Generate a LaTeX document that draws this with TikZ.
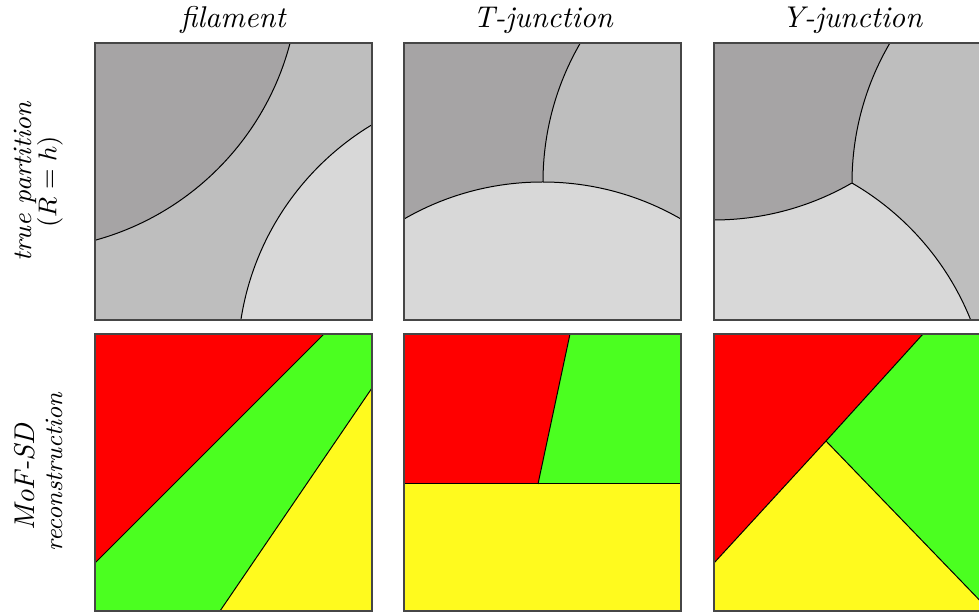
\documentclass[tikz,border=0pt]{standalone}
\definecolor{gdark}{RGB}{166,164,165}
\definecolor{gmid}{RGB}{190,190,190}
\definecolor{glight}{RGB}{216,216,216}
\definecolor{pred}{RGB}{255,0,0}
\definecolor{pgreen}{RGB}{75,255,32}
\definecolor{pyellow}{RGB}{255,250,30}
\definecolor{frame}{RGB}{70,70,70}
\tikzset{
  edge/.style={black,line width=0.35pt},
  panelframe/.style={draw=frame,line width=0.55pt},
  lbl/.style={font=\itshape\fontsize{10.5}{12}\selectfont,inner sep=0pt},
  rowlbl/.style={font=\itshape\fontsize{9.3}{11}\selectfont,inner sep=0pt,rotate=90}
}
\def\R{96.95pt}
\begin{document}
\begin{tikzpicture}[x=0.35pt,y=-0.35pt]
\useasboundingbox (0,0) rectangle (979,612);
\begin{scope}
\clip (0,0) rectangle (979,612);
% ---------- filament, true partition
\begin{scope}
\clip (95,43) rectangle (372,320);
\fill[gmid] (95,43) rectangle (372,320);
\fill[gdark] (22,-27) circle[radius=\R];
\fill[glight] (514.7,362.2) circle[radius=\R];
\draw[edge] (22,-27) circle[radius=\R];
\draw[edge] (514.7,362.2) circle[radius=\R];
\end{scope}
\draw[panelframe] (95,43) rectangle (372,320);
% ---------- T-junction, true partition
\begin{scope}
\clip (404,43) rectangle (681,320);
\fill[gdark] (404,43) rectangle (681,320);
\fill[gmid] (820,182) circle[radius=\R];
\draw[edge] (820,182) circle[radius=\R];
\fill[glight] (542.5,459) circle[radius=\R];
\draw[edge] (542.5,459) circle[radius=\R];
\end{scope}
\draw[panelframe] (404,43) rectangle (681,320);
% ---------- Y-junction, true partition
\begin{scope}
\clip (714,43) rectangle (990,320);
\fill[gmid] (714,43) rectangle (990,320);
\fill[glight] (713.5,423) circle[radius=\R];
\begin{scope}
\clip (713.5,-57) circle[radius=\R];
\fill[gdark,even odd rule] (700,30) rectangle (1000,330) (1129,183) circle[radius=\R];
\end{scope}
\begin{scope}
\clip (713.5,423) circle[radius=\R];
\draw[edge] (713.5,-57) circle[radius=\R];
\end{scope}
\begin{scope}
\clip (1129,183) circle[radius=\R];
\draw[edge] (713.5,423) circle[radius=\R];
\end{scope}
\begin{scope}
\clip (713.5,-57) circle[radius=\R];
\draw[edge] (1129,183) circle[radius=\R];
\end{scope}
\end{scope}
\draw[panelframe] (714,43) rectangle (990,320);
% ---------- filament, reconstruction
\fill[pred] (95,334) -- (324,334) -- (95,563) -- cycle;
\fill[pgreen] (324,334) -- (372,334) -- (372,388) -- (220,611) -- (95,611) -- (95,563) -- cycle;
\fill[pyellow] (372,388) -- (372,611) -- (220,611) -- cycle;
\draw[edge] (324,334) -- (95,563);
\draw[edge] (372,388) -- (220,611);
\draw[panelframe] (95,334) rectangle (372,611);
% ---------- T-junction, reconstruction
\fill[pred] (404,334) -- (570,334) -- (538,484) -- (404,484) -- cycle;
\fill[pgreen] (570,334) -- (681,334) -- (681,484) -- (538,484) -- cycle;
\fill[pyellow] (404,484) -- (681,484) -- (681,611) -- (404,611) -- cycle;
\draw[edge] (570,334) -- (538,484);
\draw[edge] (404,484) -- (681,484);
\draw[panelframe] (404,334) rectangle (681,611);
% ---------- Y-junction, reconstruction
\fill[pred] (714,334) -- (923,334) -- (826,441) -- (714,563) -- cycle;
\fill[pgreen] (923,334) -- (990,334) -- (990,611) -- (826,441) -- cycle;
\fill[pyellow] (714,563) -- (826,441) -- (990,611) -- (714,611) -- cycle;
\draw[edge] (923,334) -- (826,441) -- (714,563);
\draw[edge] (826,441) -- (990,611);
\draw[panelframe] (714,334) rectangle (990,611);
\end{scope}
% ---------- labels
\node[lbl] (hfil) at (233,20) {filament};
\node[lbl] (htj) at (543,20) {T-junction};
\node[lbl] (hyj) at (852,20) {Y-junction};
\node[rowlbl] (rowa1) at (25,182) {true partition};
\node[rowlbl] (rowa2) at (50,182) {$(R=h)$};
\node[rowlbl,font=\itshape\fontsize{10}{12}\selectfont] (rowb1) at (25,477) {MoF-SD};
\node[rowlbl,font=\itshape\fontsize{8.8}{11}\selectfont] (rowb2) at (54,472) {reconstruction};
\end{tikzpicture}
\end{document}
